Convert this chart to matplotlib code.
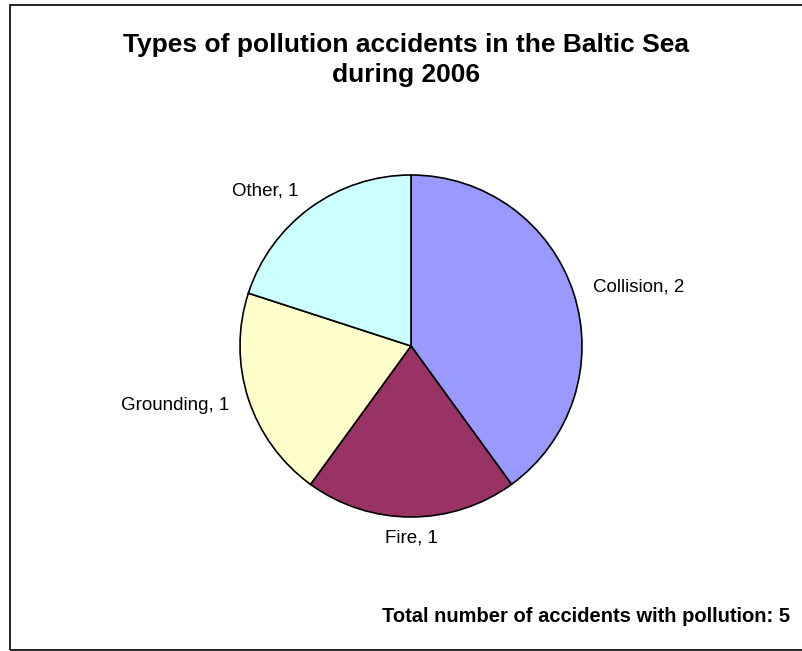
import matplotlib
matplotlib.use("Agg")
import matplotlib.pyplot as plt
from matplotlib.patches import Rectangle

categories = ["Collision", "Fire", "Grounding", "Other"]
values = [2, 1, 1, 1]
colors = ["#9999FF", "#993366", "#FFFFCC", "#CCFFFF"]
title = "Types of pollution accidents in the Baltic Sea\nduring 2006"
total_note = "Total number of accidents with pollution: 5"

plt.rcParams['font.family'] = ['Liberation Sans', 'DejaVu Sans']

fig = plt.figure(figsize=(8.03, 6.51), dpi=100)
fig.patch.set_facecolor("white")

# outer border
fig.add_artist(Rectangle((10 / 803, 1 - 650 / 651), 1.0, 645 / 651, transform=fig.transFigure,
                         fill=False, edgecolor="black", linewidth=1.2))

cx, cy, r = 411, 346, 171
ax = fig.add_axes([(cx - r) / 803, (651 - cy - r) / 651, 2 * r / 803, 2 * r / 651])
labels = [f"{c}, {v}" for c, v in zip(categories, values)]
wedges, texts = ax.pie(values, colors=colors, startangle=90, counterclock=False,
                       labels=labels, labeldistance=1.12,
                       wedgeprops=dict(edgecolor="black", linewidth=1.2),
                       textprops=dict(fontsize=13.5, color="black"))
for t in texts:
    x, _ = t.get_position()
    if abs(x) < 1e-6:
        t.set_ha("center")
ax.set_xlim(-1, 1)
ax.set_ylim(-1, 1)
ax.set_aspect("equal")
ax.axis("off")

fig.text(406 / 803, 1 - 60 / 651, title, ha="center", va="center",
         fontsize=19, fontweight="bold", linespacing=1.35)
fig.text(790 / 803, 1 - 616 / 651, total_note, ha="right", va="center",
         fontsize=14.5, fontweight="bold")

fig.savefig("out.png", dpi=100)
